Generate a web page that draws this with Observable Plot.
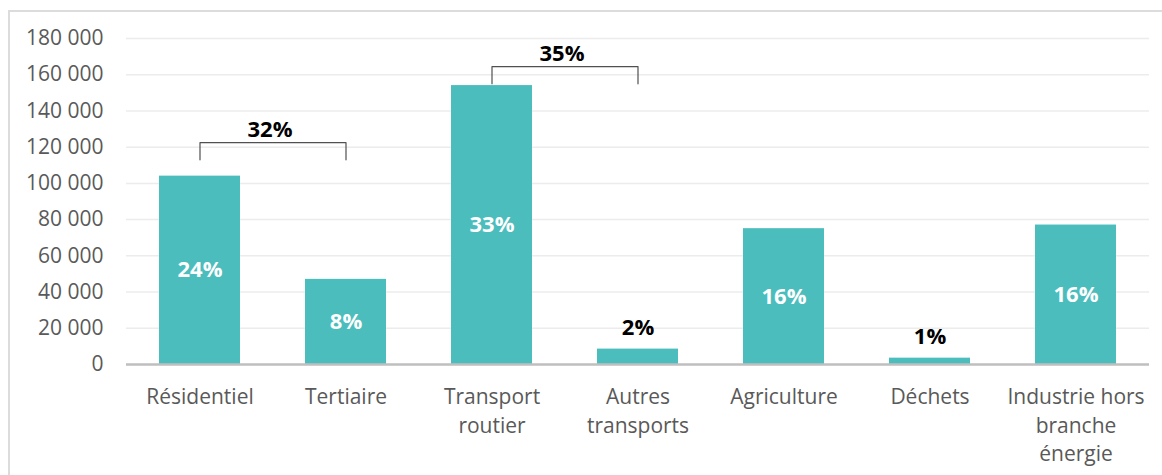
<!DOCTYPE html>
<html><head><meta charset="utf-8">
<script src="https://cdn.jsdelivr.net/npm/d3@7"></script>
<script src="https://cdn.jsdelivr.net/npm/@observablehq/plot@0.6"></script>
<style>
body{margin:0;background:#fff;font-family:"Open Sans",sans-serif;}
#wrap{position:relative;width:1162px;height:475px;overflow:hidden;}
#frame{position:absolute;left:8px;top:10px;width:1200px;height:520px;border-left:2px solid #dcdcdc;border-top:2px solid #dcdcdc;}
#chart{position:absolute;left:0;top:0;}
</style></head><body>
<div id="wrap"><div id="frame"></div><div id="chart"></div></div>
<script>
const categories = ["Résidentiel","Tertiaire","Transport routier","Autres transports","Agriculture","Déchets","Industrie hors branche énergie"];
const tickLabels = ["Résidentiel","Tertiaire","Transport\nroutier","Autres\ntransports","Agriculture","Déchets","Industrie hors\nbranche\nénergie"];
const values = [104000, 47000, 154000, 8500, 75000, 3500, 77000];
const shares = ["24%","8%","33%","2%","16%","1%","16%"];
const bracketFrom = ["Résidentiel","Transport routier"];
const bracketTo = ["Tertiaire","Autres transports"];
const bracketLevel = [122500, 164500];
const bracketLabel = ["32%","35%"];
const yTicks = [0,20000,40000,60000,80000,100000,120000,140000,160000,180000];

const rows = categories.map((c,i)=>({cat:c, value:values[i], share:shares[i], tick:tickLabels[i]}));
const inside = rows.filter(d=>d.value>=20000);
const outside = rows.filter(d=>d.value<20000);
const drop = 9500;
const bracketPts = bracketFrom.flatMap((f,i)=>[
  {b:i,x:f,y:bracketLevel[i]-drop},{b:i,x:f,y:bracketLevel[i]},
  {b:i,x:bracketTo[i],y:bracketLevel[i]},{b:i,x:bracketTo[i],y:bracketLevel[i]-drop}]);
const bracketText = bracketFrom.map((f,i)=>({x:f, y:bracketLevel[i], label:bracketLabel[i]}));
const fmt = d3.formatLocale({thousands:" ", grouping:[3], decimal:",", currency:["",""]}).format(",");

const plot = Plot.plot({
  width:1162, height:475, marginLeft:126, marginRight:13, marginTop:38, marginBottom:111,
  style:{fontFamily:'"Open Sans", sans-serif', background:"transparent", color:"#595959", overflow:"visible"},
  x:{domain:categories, paddingInner:0.445, paddingOuter:0.2225, label:null, axis:null},
  y:{domain:[0,180000], label:null, axis:null},
  marks:[
    Plot.gridY(yTicks, {stroke:"#ececec", strokeOpacity:1, strokeWidth:1.5}),
    Plot.axisY(yTicks, {tickSize:0, tickPadding:23, tickFormat:fmt, fontSize:21, fill:"#595959", label:null}),
    Plot.barY(rows, {x:"cat", y:"value", fill:"#4bbdbd"}),
    Plot.ruleY([0], {stroke:"#bfbfbf", strokeWidth:2.5}),
    Plot.axisX({tickSize:0, tickPadding:20, tickFormat:c=>tickLabels[categories.indexOf(c)], fontSize:21, lineHeight:1.34, fill:"#595959", label:null}),
    Plot.text(inside, {x:"cat", y:d=>d.value/2, text:"share", fill:"white", fontWeight:"bold", fontSize:22}),
    Plot.text(outside, {x:"cat", y:"value", text:"share", fill:"black", fontWeight:"bold", fontSize:22, lineAnchor:"bottom", dy:-14}),
    Plot.line(bracketPts, {x:"x", y:"y", z:"b", stroke:"#505050", strokeWidth:1.2}),
    Plot.text(bracketText, {x:"x", y:"y", text:"label", dx:70, dy:-6, lineAnchor:"bottom", fontWeight:"bold", fontSize:22, fill:"black"})
  ]
});
document.getElementById("chart").appendChild(plot);
</script>
</body></html>
